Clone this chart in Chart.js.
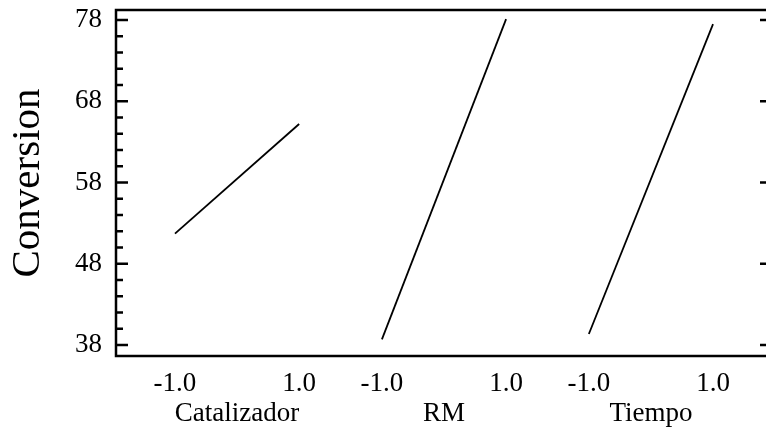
<!DOCTYPE html>
<html>
<head>
<meta charset="utf-8">
<script src="https://cdn.jsdelivr.net/npm/chart.js@4"></script>
<style>
  html, body { margin: 0; padding: 0; background: #fff; overflow: hidden; }
  #wrap { width: 766px; height: 428px; overflow: hidden; }
</style>
</head>
<body>
<div id="wrap"><canvas id="myChart" width="780" height="428"></canvas></div>
<script>
// datos (efectos principales)
const factores = ['Catalizador', 'RM', 'Tiempo'];
const niveles = [-1.0, 1.0];
const etiquetasNivel = ['-1.0', '1.0'];
const catalizador = [51.7, 65.2];
const rm = [38.7, 78.1];
const tiempo = [39.35, 77.5];
const yTicks = [38, 48, 58, 68, 78];

const series = [catalizador, rm, tiempo];
const anchoPanel = 10 / 3; // cada factor ocupa su propio tramo en x

// posicion en x de cada nivel dentro de su panel
function posX(i, nivel) {
  return i * anchoPanel + (nivel + 1);
}

// ticks del eje x: niveles y nombres de los factores
const xTicks = [];
factores.forEach((f, i) => {
  niveles.forEach((n, j) => xTicks.push({ value: posX(i, n), label: etiquetasNivel[j] }));
  xTicks.push({ value: posX(i, 0), label: ['', f] });
});
xTicks.sort((a, b) => a.value - b.value);

const fuente = 'Liberation Serif, Times New Roman, serif';

// marco y marcas hacia adentro
const marco = {
  id: 'marco',
  afterDatasetsDraw(chart) {
    const { ctx, chartArea: a, scales: { y } } = chart;
    ctx.save();
    ctx.strokeStyle = '#000';
    ctx.lineWidth = 2.5;
    ctx.strokeRect(a.left, a.top, a.right - a.left, a.bottom - a.top);
    ctx.beginPath();
    for (let v = 38; v <= 78; v += 2) {
      const py = y.getPixelForValue(v);
      const mayor = yTicks.includes(v);
      ctx.moveTo(a.left, py); ctx.lineTo(a.left + (mayor ? 12 : 7), py);
      if (mayor) { ctx.moveTo(a.right, py); ctx.lineTo(a.right - 12, py); }
    }
    ctx.stroke();
    ctx.restore();
  }
};

new Chart(document.getElementById('myChart'), {
  type: 'scatter',
  data: {
    datasets: series.map((s, i) => ({
      label: factores[i],
      data: niveles.map((n, j) => ({ x: posX(i, n), y: s[j] })),
      showLine: true,
      borderColor: '#000',
      borderWidth: 1.8,
      pointRadius: 0,
      fill: false
    }))
  },
  options: {
    responsive: false,
    animation: false,
    layout: { padding: { left: 0, top: 10, right: 8, bottom: 0 } },
    plugins: { legend: { display: false }, tooltip: { enabled: false } },
    scales: {
      x: {
        type: 'linear',
        min: -0.95,
        max: 2 * anchoPanel + 2 + 0.95,
        grid: { display: false, drawTicks: false },
        border: { display: false },
        afterBuildTicks: s => { s.ticks = xTicks.map(t => ({ value: t.value })); },
        afterFit: s => { s.height = 72; s.paddingLeft = 0; s.paddingRight = 0; },
        ticks: {
          autoSkip: false,
          maxRotation: 0,
          padding: 12.5,
          color: '#000',
          font: { family: fuente, size: 27, lineHeight: 30 / 27 },
          callback: (v, i) => xTicks[i].label
        }
      },
      y: {
        min: 36.646,
        max: 79.231,
        grid: { display: false, drawTicks: false },
        border: { display: false },
        afterBuildTicks: s => { s.ticks = yTicks.map(v => ({ value: v })); },
        afterFit: s => { s.width = 116; s.paddingTop = 0; s.paddingBottom = 0; },
        ticks: {
          padding: 14,
          color: '#000',
          font: { family: fuente, size: 27 },
          callback: v => String(v)
        },
        title: {
          display: true,
          text: 'Conversion',
          color: '#000',
          padding: { top: 4, bottom: 0 },
          font: { family: fuente, size: 41, lineHeight: 1.2 }
        }
      }
    }
  },
  plugins: [marco]
});
</script>
</body>
</html>
